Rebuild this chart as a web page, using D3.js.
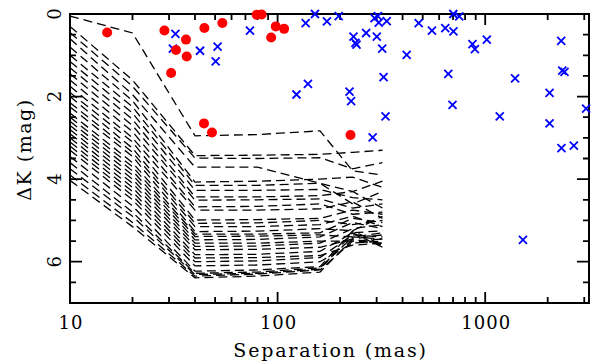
<!DOCTYPE html>
<html>
<head>
<meta charset="utf-8">
<script src="https://cdn.jsdelivr.net/npm/d3@7"></script>
</head>
<body style="margin:0;background:#fff">
<div id="chart-area"></div>
<script>
// contrast curves: separation nodes (mas) and ΔK at each node
const curveSeps = [10, 20, 40, 80, 160, 230, 320];
const curves = [
    [0.05, 0.46, 2.95, 2.92, 2.83, 3.80, 3.90],
    [0.30, 1.60, 3.43, 3.42, 3.40, 3.35, 3.30],
    [0.45, 1.75, 3.49, 3.50, 3.48, 3.75, 3.60],
    [0.60, 1.95, 3.71, 3.71, 4.10, 4.30, 4.05],
    [0.80, 2.10, 4.07, 4.05, 4.00, 3.95, 4.20],
    [1.00, 2.25, 4.15, 4.15, 4.10, 4.60, 4.30],
    [1.15, 2.40, 4.27, 4.27, 4.25, 4.45, 4.50],
    [1.30, 2.55, 4.43, 4.43, 4.40, 4.30, 4.70],
    [1.45, 2.70, 4.51, 4.50, 4.48, 4.70, 4.60],
    [1.60, 2.85, 4.67, 4.66, 4.60, 4.85, 4.80],
    [1.75, 3.00, 4.75, 4.75, 4.72, 4.55, 4.95],
    [1.90, 3.10, 4.99, 4.98, 4.95, 4.75, 4.85],
    [2.00, 3.25, 5.07, 5.06, 5.00, 5.10, 5.00],
    [2.15, 3.35, 5.15, 5.15, 5.10, 4.90, 5.15],
    [2.25, 3.45, 5.27, 5.26, 5.20, 5.25, 4.90],
    [2.40, 3.60, 5.33, 5.33, 5.30, 4.95, 5.05],
    [2.50, 3.70, 5.39, 5.38, 5.35, 5.40, 5.30],
    [2.60, 3.80, 5.47, 5.46, 5.40, 5.05, 5.20],
    [2.70, 3.90, 5.55, 5.55, 5.50, 5.50, 5.45],
    [2.80, 4.00, 5.63, 5.62, 5.55, 5.20, 5.10],
    [2.90, 4.10, 5.71, 5.70, 5.65, 5.45, 5.35],
    [3.00, 4.20, 5.83, 5.82, 5.75, 5.30, 5.25],
    [3.10, 4.30, 5.91, 5.90, 5.85, 5.60, 5.55],
    [3.20, 4.40, 6.00, 5.98, 5.90, 5.35, 5.40],
    [3.30, 4.50, 6.10, 6.08, 6.00, 5.55, 5.50],
    [3.45, 4.65, 6.23, 6.20, 6.12, 5.25, 5.60],
    [3.60, 4.80, 6.28, 6.25, 6.15, 5.40, 5.45],
    [3.75, 4.90, 6.31, 6.28, 6.18, 5.30, 5.65],
    [3.90, 5.05, 6.35, 6.30, 6.20, 5.50, 5.55],
    [4.03, 5.15, 6.39, 6.35, 6.25, 5.45, 5.60]
];

// detections (red) and candidates (blue): separation (mas), ΔK
const redSep = [15.1, 28.5, 36.2, 32.4, 36.5, 30.7, 44.4, 54.2, 79.3, 83.8, 98, 107.5, 93.1, 44.2, 48.3, 224.5];
const redDK  = [0.45, 0.40, 0.62, 0.87, 1.03, 1.43, 0.34, 0.22, 0.02, 0.01, 0.30, 0.36, 0.57, 2.65, 2.87, 2.93];

const blueSep = [32.2, 31.3, 42.3, 51.4, 50.3, 73.6, 136.5, 151.3, 172.8, 197, 123.3, 140, 222, 226,
    232, 237, 240, 267, 293, 304, 307, 335.5, 300.5, 319, 418.6, 478, 554, 642, 702, 750, 703,
    868, 892, 1018, 2323, 2350, 2410, 1393, 2042, 2042, 3062, 664, 696, 1175, 324, 331, 287,
    2330, 2673, 1520];
const blueDK  = [0.48, 0.84, 0.89, 0.79, 1.15, 0.40, 0.22, 0.00, 0.18, 0.05, 1.95, 1.69, 1.88, 2.11,
    0.55, 0.70, 0.74, 0.46, 0.10, 0.05, 0.21, 0.17, 0.55, 0.84, 0.99, 0.22, 0.40, 0.34, 0.00, 0.06, 0.42,
    0.73, 0.85, 0.62, 0.65, 1.37, 1.40, 1.56, 1.91, 2.65, 2.29, 1.45, 2.20, 2.48, 1.53, 2.48, 2.99,
    3.25, 3.19, 5.47];

const xMajor = [10, 100, 1000];
const xMinor = [20, 30, 40, 50, 60, 70, 80, 90, 200, 300, 400, 500, 600, 700, 800, 900, 2000, 3000];
const yMajor = [0, 2, 4, 6];
const yMinor = [0.5, 1, 1.5, 2.5, 3, 3.5, 4.5, 5, 5.5, 6.5];

const FONT = "'DejaVu Serif', serif";

const margin = {top: 14, right: 3, bottom: 60, left: 70};
const width = 592 - margin.left - margin.right;
const height = 363 - margin.top - margin.bottom;

const svg = d3.select("#chart-area")
    .append("svg")
    .attr("width", 592)
    .attr("height", 363)
    .append("g")
    .attr("transform", `translate(${margin.left}, ${margin.top})`);

const xScale = d3.scaleLog()
    .domain([10, Math.pow(10, 3.5)])
    .range([0, width]);

const yScale = d3.scaleLinear()
    .domain([0, 7])
    .range([0, height]);

// dashed contrast curves
const line = d3.line()
    .x((d, i) => xScale(curveSeps[i]))
    .y(d => yScale(d));

svg.selectAll(".curve")
    .data(curves)
    .enter()
    .append("path")
    .attr("class", "curve")
    .attr("d", line)
    .attr("fill", "none")
    .attr("stroke", "#000")
    .attr("stroke-width", 1.3)
    .attr("stroke-dasharray", "9,5");

// inward ticks on all four sides, one path
const xTicks = xMajor.map(v => ({v, len: 11})).concat(xMinor.map(v => ({v, len: 6})));
const yTicks = yMajor.map(v => ({v, len: 12})).concat(yMinor.map(v => ({v, len: 6})));

const tickPath = d3.path();
xTicks.forEach(t => {
    const x = xScale(t.v);
    tickPath.moveTo(x, height); tickPath.lineTo(x, height - t.len);
    tickPath.moveTo(x, 0); tickPath.lineTo(x, t.len);
});
yTicks.forEach(t => {
    const y = yScale(t.v);
    tickPath.moveTo(0, y); tickPath.lineTo(t.len, y);
    tickPath.moveTo(width, y); tickPath.lineTo(width - t.len, y);
});

svg.append("path")
    .attr("d", tickPath.toString())
    .attr("fill", "none")
    .attr("stroke", "#000")
    .attr("stroke-width", 1.8);

// tick labels
svg.selectAll(".xlab")
    .data(xMajor).enter().append("text")
    .attr("class", "xlab")
    .attr("x", d => xScale(d) + 1)
    .attr("y", height + 26)
    .attr("text-anchor", "middle")
    .style("font-family", FONT)
    .style("font-size", "18px")
    .style("letter-spacing", "1px")
    .text(d => d);

svg.selectAll(".ylab")
    .data(yMajor).enter().append("text")
    .attr("class", "ylab")
    .attr("transform", d => `translate(-9, ${yScale(d)}) rotate(-90)`)
    .attr("text-anchor", "middle")
    .style("font-family", FONT)
    .style("font-size", "18px")
    .text(d => d);

// frame
svg.append("rect")
    .attr("width", width)
    .attr("height", height)
    .attr("fill", "none")
    .attr("stroke", "#000")
    .attr("stroke-width", 2);

// candidates
svg.selectAll(".cand")
    .data(blueSep)
    .enter()
    .append("path")
    .attr("class", "cand")
    .attr("transform", (d, i) => `translate(${xScale(d)}, ${yScale(blueDK[i])})`)
    .attr("d", "M-4,-4L4,4M-4,4L4,-4")
    .attr("stroke", "#0000ff")
    .attr("stroke-width", 1.8);

// detections
svg.selectAll(".det")
    .data(redSep)
    .enter()
    .append("circle")
    .attr("class", "det")
    .attr("cx", d => xScale(d))
    .attr("cy", (d, i) => yScale(redDK[i]))
    .attr("r", 5)
    .attr("fill", "#ff0000");

// axis titles
svg.append("text")
    .attr("x", width / 2 + 1)
    .attr("y", height + 54)
    .attr("text-anchor", "middle")
    .style("font-family", FONT)
    .style("font-size", "19px")
    .style("letter-spacing", "1.8px")
    .text("Separation (mas)");

svg.append("text")
    .attr("transform", `translate(-39, ${height / 2 - 9}) rotate(-90)`)
    .attr("text-anchor", "middle")
    .style("font-family", FONT)
    .style("font-size", "19px")
    .style("letter-spacing", "1.5px")
    .text("ΔK (mag)");
</script>
</body>
</html>
